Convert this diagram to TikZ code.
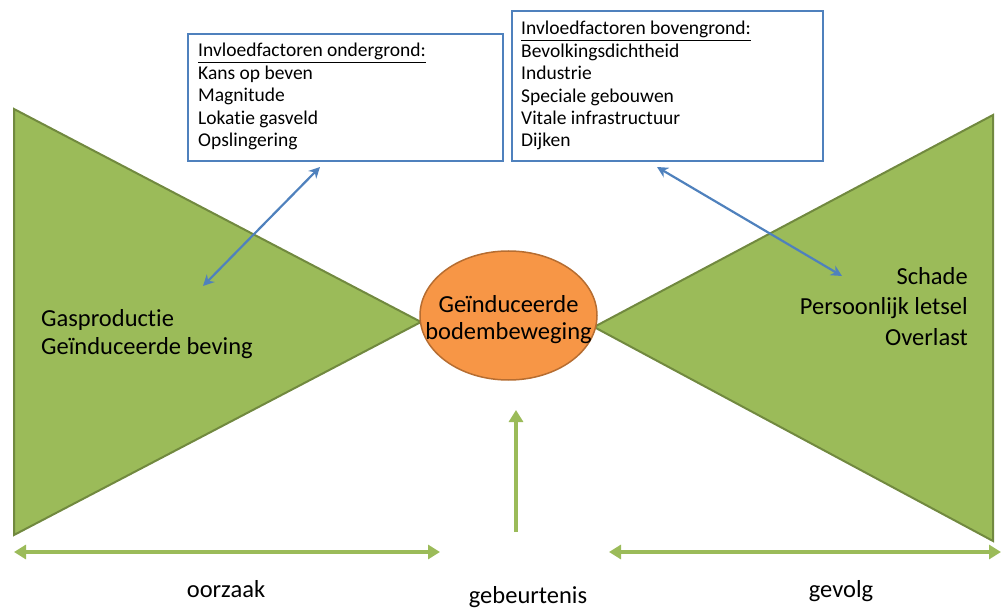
\documentclass[tikz,border=0pt]{standalone}
\usepackage{fontspec}
\setmainfont[Ligatures=NoCommon]{Carlito}
\usetikzlibrary{shapes.geometric,arrows.meta}
\definecolor{gfill}{HTML}{9BBB59}
\definecolor{gline}{HTML}{71893F}
\definecolor{ofill}{HTML}{F79646}
\definecolor{oline}{HTML}{B66D31}
\definecolor{bline}{HTML}{4F81BD}
\begin{document}
\begin{tikzpicture}[x=1pt,y=-1pt,
  tri/.style={fill=gfill,draw=gline,line width=2pt,line join=miter},
  infobox/.style={draw=bline,line width=2.2pt,fill=white,anchor=north west,inner sep=0pt},
  boxtxt/.style={font=\fontsize{19.5}{22.5}\selectfont,inner sep=0pt,anchor=base west},
  blarrow/.style={draw=bline,line width=2.2pt,{Stealth[length=11pt,width=11pt]}-{Stealth[length=11pt,width=11pt]}},
  grarrow/.style={draw=gfill,line width=4pt},
  bigtxt/.style={font=\fontsize{24.5}{30}\selectfont,inner sep=0pt},
  lbl/.style={font=\fontsize{24.5}{28}\selectfont,inner sep=0pt,anchor=base}]
\useasboundingbox (0,0) rectangle (1001,609);
% triangles
\draw[tri] (14,109) -- (14,535) -- (421,322) -- cycle;
\draw[tri] (993,115) -- (993,541) -- (594,327) -- cycle;
% ellipse
\node[ellipse,fill=ofill,draw=oline,line width=1.5pt,minimum width=177pt,minimum height=129pt,inner sep=0pt] (ev) at (508.5,315.5) {};
\node[bigtxt,anchor=base] (ev1) at (508.5,313) {Geïnduceerde};
\node[bigtxt,anchor=base] (ev2) at (508.5,340) {bodembeweging};
% texts in triangles
\node[bigtxt,anchor=base west] (oz1) at (41,327) {Gasproductie};
\node[bigtxt,anchor=base west] (oz2) at (41,355) {Geïnduceerde beving};
\node[bigtxt,anchor=base east] (gv1) at (968,285) {Schade};
\node[bigtxt,anchor=base east] (gv2) at (968,315) {Persoonlijk letsel};
\node[bigtxt,anchor=base east] (gv3) at (968,345) {Overlast};
% boxes
\node[infobox,minimum width=315pt,minimum height=127pt] (b1) at (187,33) {};
\node[boxtxt] (b1t0) at (198,57) {\underline{Invloedfactoren ondergrond:}};
\node[boxtxt] (b1t1) at (198,79.5) {Kans op beven};
\node[boxtxt] (b1t2) at (198,102) {Magnitude};
\node[boxtxt] (b1t3) at (198,124.5) {Lokatie gasveld};
\node[boxtxt] (b1t4) at (198,147) {Opslingering};
\node[infobox,minimum width=311pt,minimum height=150pt] (b2) at (511,10) {};
\node[boxtxt] (b2t0) at (521,35) {\underline{Invloedfactoren bovengrond:}};
\node[boxtxt] (b2t1) at (521,57.4) {Bevolkingsdichtheid};
\node[boxtxt] (b2t2) at (521,79.8) {Industrie};
\node[boxtxt] (b2t3) at (521,102.2) {Speciale gebouwen};
\node[boxtxt] (b2t4) at (521,124.6) {Vitale infrastructuur};
\node[boxtxt] (b2t5) at (521,147) {Dijken};
% blue arrows
\coordinate (a1s) at (320,167);
\coordinate (a1e) at (203,286);
\coordinate (a2s) at (657,167);
\coordinate (a2e) at (842,276);
\draw[blarrow] (a1s) -- (a1e);
\draw[blarrow] (a2s) -- (a2e);
% green arrows
\coordinate (vs) at (516,532);
\coordinate (ve) at (516,410);
\draw[grarrow,-{Triangle[length=12pt,width=14pt]}] (vs) -- (ve);
\coordinate (l1) at (14,552);
\coordinate (l2) at (440,552);
\coordinate (r1) at (609,552);
\coordinate (r2) at (1001,552);
\draw[grarrow,{Triangle[length=12pt,width=14pt]}-{Triangle[length=12pt,width=14pt]}] (l1) -- (l2);
\draw[grarrow,{Triangle[length=12pt,width=14pt]}-{Triangle[length=12pt,width=14pt]}] (r1) -- (r2);
% bottom labels
\node[lbl] (t1) at (226,597) {oorzaak};
\node[lbl] (t2) at (528,603) {gebeurtenis};
\node[lbl] (t3) at (841,597) {gevolg};
\end{tikzpicture}
\end{document}
